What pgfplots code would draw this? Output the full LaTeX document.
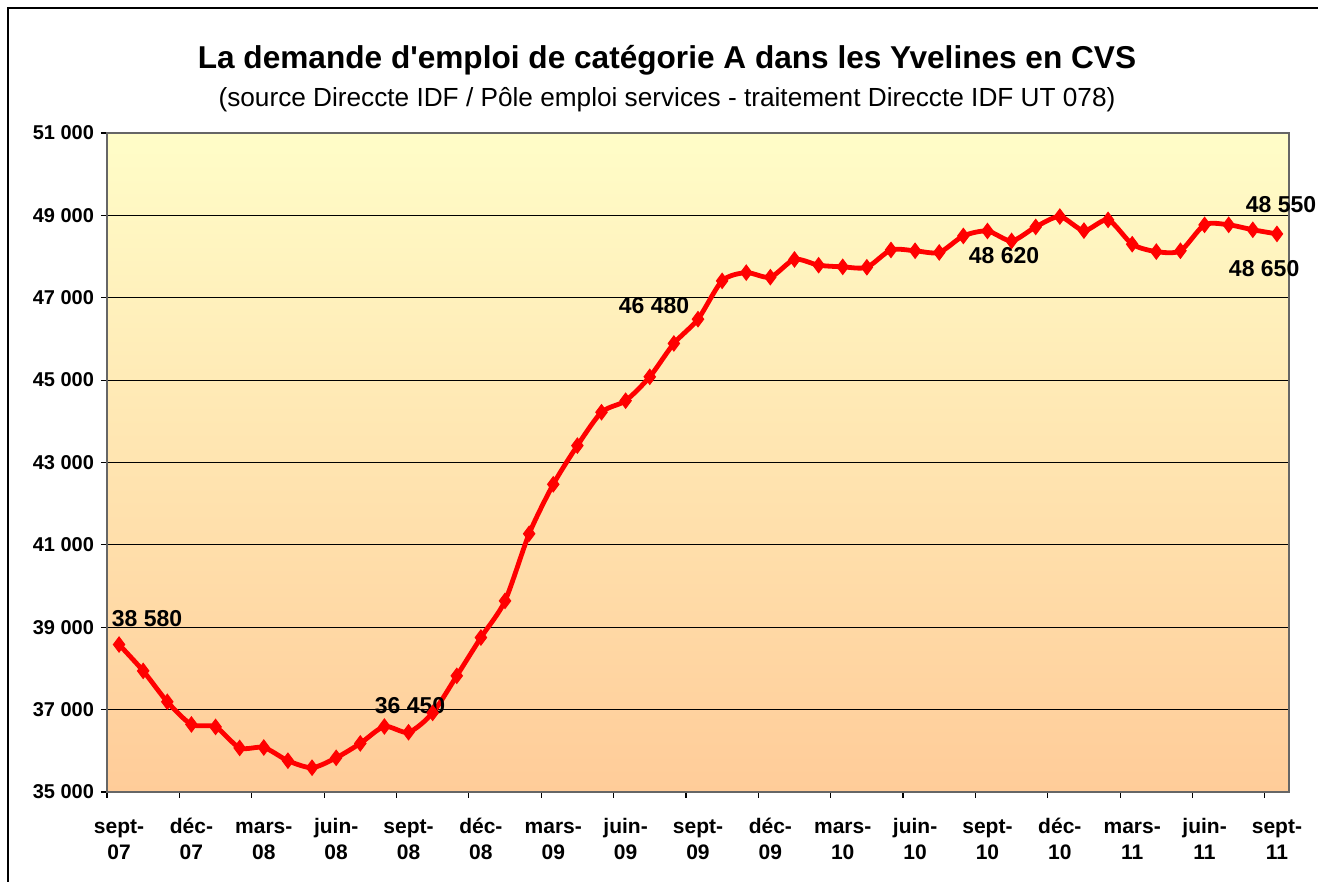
\documentclass[border=0pt]{standalone}
\usepackage{pgfplots}
\pgfplotsset{compat=1.18}
\usepackage{fontspec}
\setmainfont{Liberation Sans}
\definecolor{bgtop}{RGB}{255,253,200}
\definecolor{bgbot}{RGB}{255,204,153}
\begin{document}
\begin{tikzpicture}
\useasboundingbox (0,0) rectangle (659pt,441pt);
\draw[black, line width=0.6pt] (4pt,0) -- (4pt,437pt) -- (659pt,437pt);
\node[font=\bfseries\fontsize{15.8}{18}\selectfont] at (333.5pt,411pt) {La demande d\textquotesingle emploi de catégorie A dans les Yvelines en CVS};
\node[font=\fontsize{13.1}{15}\selectfont] at (333.5pt,391pt) {(source Direccte IDF / Pôle emploi services - traitement Direccte IDF UT 078)};
\begin{axis}[
  at={(53.5pt,45pt)}, anchor=south west, scale only axis,
  width=591pt, height=329.5pt,
  xmin=-0.5, xmax=48.5, ymin=35000, ymax=51000,
  clip=false,
  scaled y ticks=false,
  axis background/.style={top color=bgtop, bottom color=bgbot},
  axis line style={black!60, line width=0.6pt},
  ytick={35000,37000,...,51000},
  yticklabels={35 000,37 000,39 000,41 000,43 000,45 000,47 000,49 000,51 000},
  ymajorgrids, grid style={black, line width=0.5pt},
  xtick={0,3,...,48},
  xticklabels={{\strut sept-\\07},{\strut déc-\\07},{\strut mars-\\08},{\strut juin-\\08},{\strut sept-\\08},{\strut déc-\\08},{\strut mars-\\09},{\strut juin-\\09},{\strut sept-\\09},{\strut déc-\\09},{\strut mars-\\10},{\strut juin-\\10},{\strut sept-\\10},{\strut déc-\\10},{\strut mars-\\11},{\strut juin-\\11},{\strut sept-\\11}},
  minor xtick={-0.5,2.5,...,47.5},
  major x tick style={draw=none},
  tick align=outside, tick pos=left,
  major tick length=3pt, minor tick length=3pt,
  tick style={black, line width=0.6pt},
  xticklabel style={align=center, anchor=north, font=\bfseries\fontsize{10.5}{13}\selectfont, yshift=-5pt},
  yticklabel style={font=\bfseries\fontsize{10}{12}\selectfont},
]
\addplot[red, line width=2.4pt, smooth, tension=0.45, mark=diamond*, mark size=3.8pt, mark options={fill=red, draw=red, line width=0.5pt}] coordinates {
(0,38580) (1,37940) (2,37190) (3,36640) (4,36580) (5,36070) (6,36080) (7,35760)
(8,35590) (9,35830) (10,36180) (11,36590) (12,36450) (13,36920) (14,37820) (15,38750)
(16,39640) (17,41270) (18,42470) (19,43410) (20,44220) (21,44500) (22,45080) (23,45890)
(24,46480) (25,47410) (26,47610) (27,47500) (28,47930) (29,47790) (30,47750) (31,47740)
(32,48160) (33,48140) (34,48100) (35,48500) (36,48620) (37,48380) (38,48720) (39,48970)
(40,48630) (41,48890) (42,48300) (43,48120) (44,48140) (45,48770) (46,48770) (47,48650)
(48,48550)
};
\begin{scope}[every node/.style={font=\bfseries\fontsize{11.5}{14}\selectfont}]
\node at (axis cs:1.16,39200) {38 580};
\node at (axis cs:12.06,37088) {36 450};
\node at (axis cs:22.18,46800) {46 480};
\node at (axis cs:36.69,48013) {48 620};
\node at (axis cs:47.47,47720) {48 650};
\node at (axis cs:48.17,49251) {48 550};
\end{scope}
\end{axis}
\end{tikzpicture}
\end{document}
